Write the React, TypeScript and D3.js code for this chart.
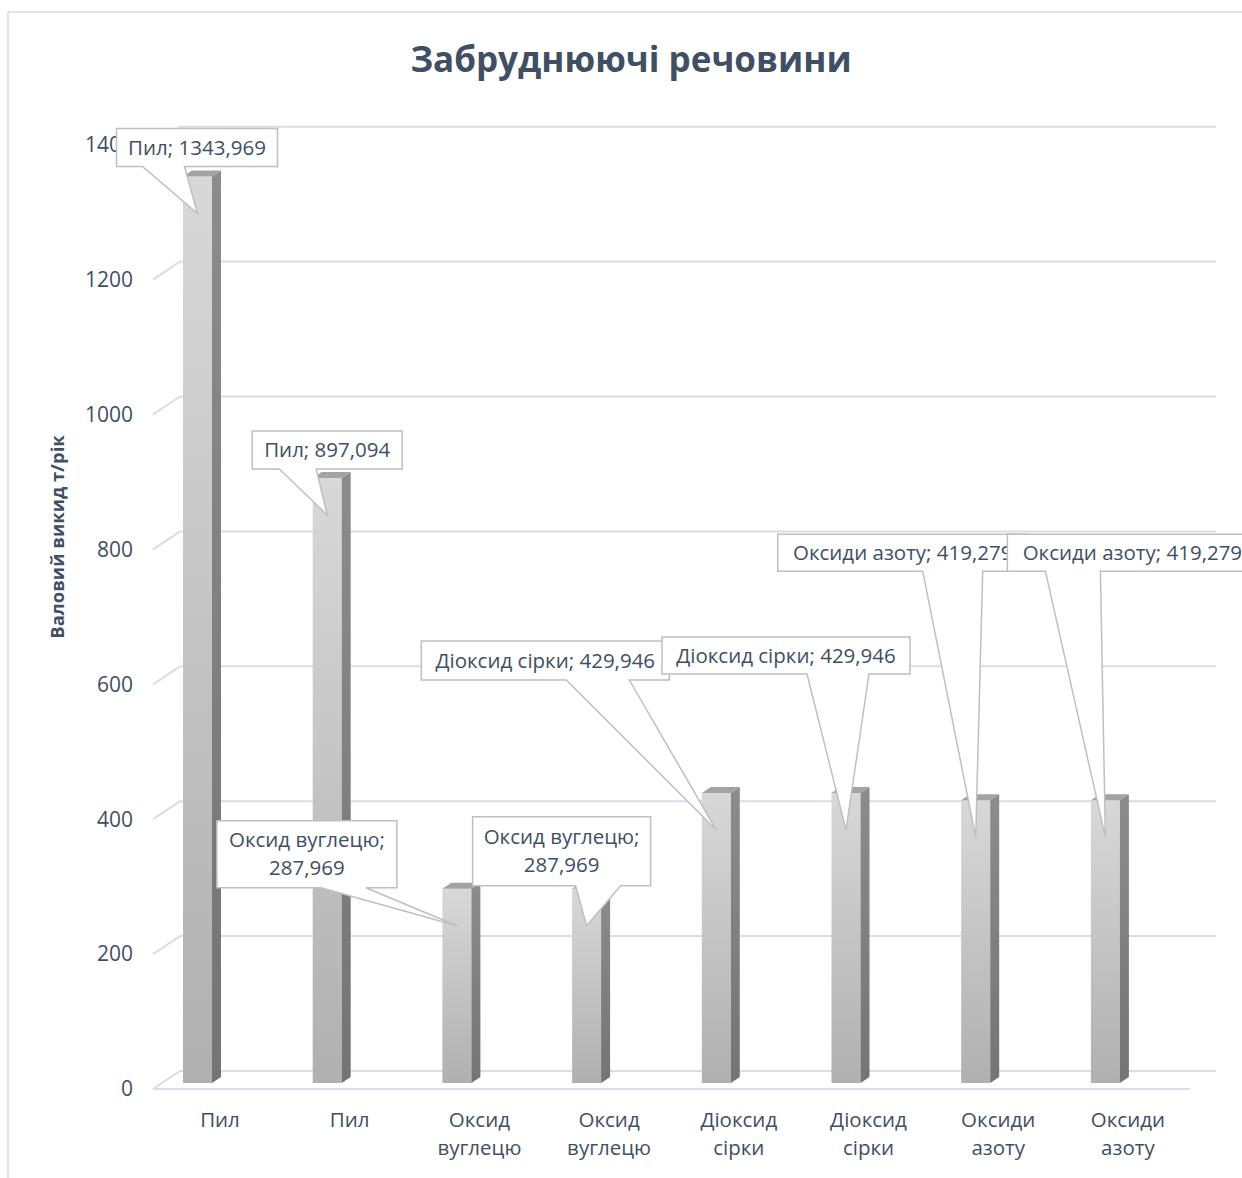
import React from "react";
import * as d3 from "d3";

const categories = ["Пил", "Пил", "Оксид вуглецю", "Оксид вуглецю", "Діоксид сірки", "Діоксид сірки", "Оксиди азоту", "Оксиди азоту"];
const categoryLines = [["Пил"], ["Пил"], ["Оксид", "вуглецю"], ["Оксид", "вуглецю"], ["Діоксид", "сірки"], ["Діоксид", "сірки"], ["Оксиди", "азоту"], ["Оксиди", "азоту"]];
const values = [1343.969, 897.094, 287.969, 287.969, 429.946, 429.946, 419.279, 419.279];
const labelTexts = [
  ["Пил; 1343,969"],
  ["Пил; 897,094"],
  ["Оксид вуглецю;", "287,969"],
  ["Оксид вуглецю;", "287,969"],
  ["Діоксид сірки; 429,946"],
  ["Діоксид сірки; 429,946"],
  ["Оксиди азоту; 419,279"],
  ["Оксиди азоту; 419,279"],
];
const yTicks = [0, 200, 400, 600, 800, 1000, 1200, 1400];

// callout layout relative to the tip point: [left, top, width, height, wedgeX1, wedgeX2]
const calloutLayout = [
  [-81, -85, 161, 38, -55, -13],
  [-75, -84, 150, 38, -48, -11],
  [-240, -105, 180, 67, -136, -91],
  [-114, -109, 178, 69, -11, 34],
  [-295, -189, 248, 39, -150, -87],
  [-184, -193, 248, 37, -39, 23],
  [-198, -303, 250, 37, -53, 7],
  [-98, -303, 250, 37, -60, -5],
];

const W = 1242;
const H = 1178;
const TEXT = "#404f63";
const GRID = "#d9dde4";
const FONT = "'Open Sans', 'Noto Sans', sans-serif";

export default function App() {
  const yFront = d3.scaleLinear().domain([0, 1400]).range([1089, 1089 - 944.3]);
  const depthX = 27, depthY = -18;
  const barOffY = -6;
  const yBar = (v: number) => yFront(v) + barOffY;
  const xBar = d3.scaleLinear().domain([0, 7]).range([183, 183 + 7 * 129.7]);
  const bw = 29, bdx = 9, bdy = -6;

  return (
    <svg width={W} height={H} style={{ position: "absolute", left: 0, top: 0, background: "#fff" }} fontFamily={FONT}>
      <defs>
        <linearGradient id="gFront" x1="0" y1="0" x2="0" y2="1">
          <stop offset="0" stopColor="#d8d8d8" />
          <stop offset="1" stopColor="#b0b0b0" />
        </linearGradient>
        <linearGradient id="gSide" x1="0" y1="0" x2="0" y2="1">
          <stop offset="0" stopColor="#8c8c8c" />
          <stop offset="1" stopColor="#747474" />
        </linearGradient>
      </defs>
      {/* chart border */}
      <line x1={8} y1={12} x2={W} y2={12} stroke="#d9d9d9" strokeWidth={1.5} />
      <line x1={8} y1={12} x2={8} y2={H} stroke="#d9d9d9" strokeWidth={1.5} />

      {/* title */}
      <text x={631} y={72} textAnchor="middle" fontSize={35} fontWeight="bold" fill={TEXT}>Забруднюючі речовини</text>

      {/* axis title */}
      <text transform={`translate(64,537) rotate(-90)`} textAnchor="middle" fontSize={18.5} fontWeight="bold" fill={TEXT}>Валовий викид т/рік</text>

      {/* gridlines */}
      {yTicks.map((t) => (
        <g key={t}>
          <line x1={153} y1={yFront(t)} x2={153 + depthX} y2={yFront(t) + depthY} stroke={GRID} strokeWidth={2} />
          <line x1={153 + depthX} y1={yFront(t) + depthY} x2={1216} y2={yFront(t) + depthY} stroke={GRID} strokeWidth={2} />
        </g>
      ))}
      <line x1={153} y1={yFront(0)} x2={1190} y2={yFront(0)} stroke={GRID} strokeWidth={2} />

      {/* tick labels */}
      {yTicks.map((t) => (
        <text key={t} x={133} y={yFront(t)} dy="0.35em" textAnchor="end" fontSize={21} fill={TEXT}>{t}</text>
      ))}

      {/* bars */}
      {values.map((v, i) => {
        const x0 = xBar(i);
        const top = yBar(v);
        const bot = yBar(0);
        return (
          <g key={i}>
            <rect x={x0} y={top} width={bw} height={bot - top} fill="url(#gFront)" />
            <polygon points={`${x0 + bw},${bot} ${x0 + bw},${top} ${x0 + bw + bdx},${top + bdy} ${x0 + bw + bdx},${bot + bdy}`} fill="url(#gSide)" />
            <polygon points={`${x0},${top} ${x0 + bw},${top} ${x0 + bw + bdx},${top + bdy} ${x0 + bdx},${top + bdy}`} fill="#a3a3a3" />
          </g>
        );
      })}

      {/* category labels */}
      {categoryLines.map((lines, i) => (
        <text key={i} x={xBar(i) + 37} y={1127} textAnchor="middle" fontSize={20.5} fill={TEXT}>
          {lines.map((l, j) => (
            <tspan key={j} x={xBar(i) + 37} dy={j === 0 ? 0 : 28}>{l}</tspan>
          ))}
        </text>
      ))}

      {/* callouts */}
      {values.map((v, i) => {
        const tx = xBar(i) + 14.5;
        const ty = yBar(v) + 37;
        const [l, t, w, h, w1, w2] = calloutLayout[i];
        const L = tx + l, T = ty + t, R = L + w, B = T + h;
        const path = `M${L},${T} L${R},${T} L${R},${B} L${tx + w2},${B} L${tx},${ty} L${tx + w1},${B} L${L},${B} Z`;
        const lines = labelTexts[i];
        const cy = (T + B) / 2;
        return (
          <g key={i}>
            <path d={path} fill="#fff" stroke="#bfbfbf" strokeWidth={1.5} />
            <text x={(L + R) / 2} y={cy - ((lines.length - 1) * 28) / 2} textAnchor="middle" fontSize={20.5} fill={TEXT}>
              {lines.map((s, j) => (
                <tspan key={j} x={(L + R) / 2} dy={j === 0 ? "0.35em" : 28}>{s}</tspan>
              ))}
            </text>
          </g>
        );
      })}
    </svg>
  );
}
